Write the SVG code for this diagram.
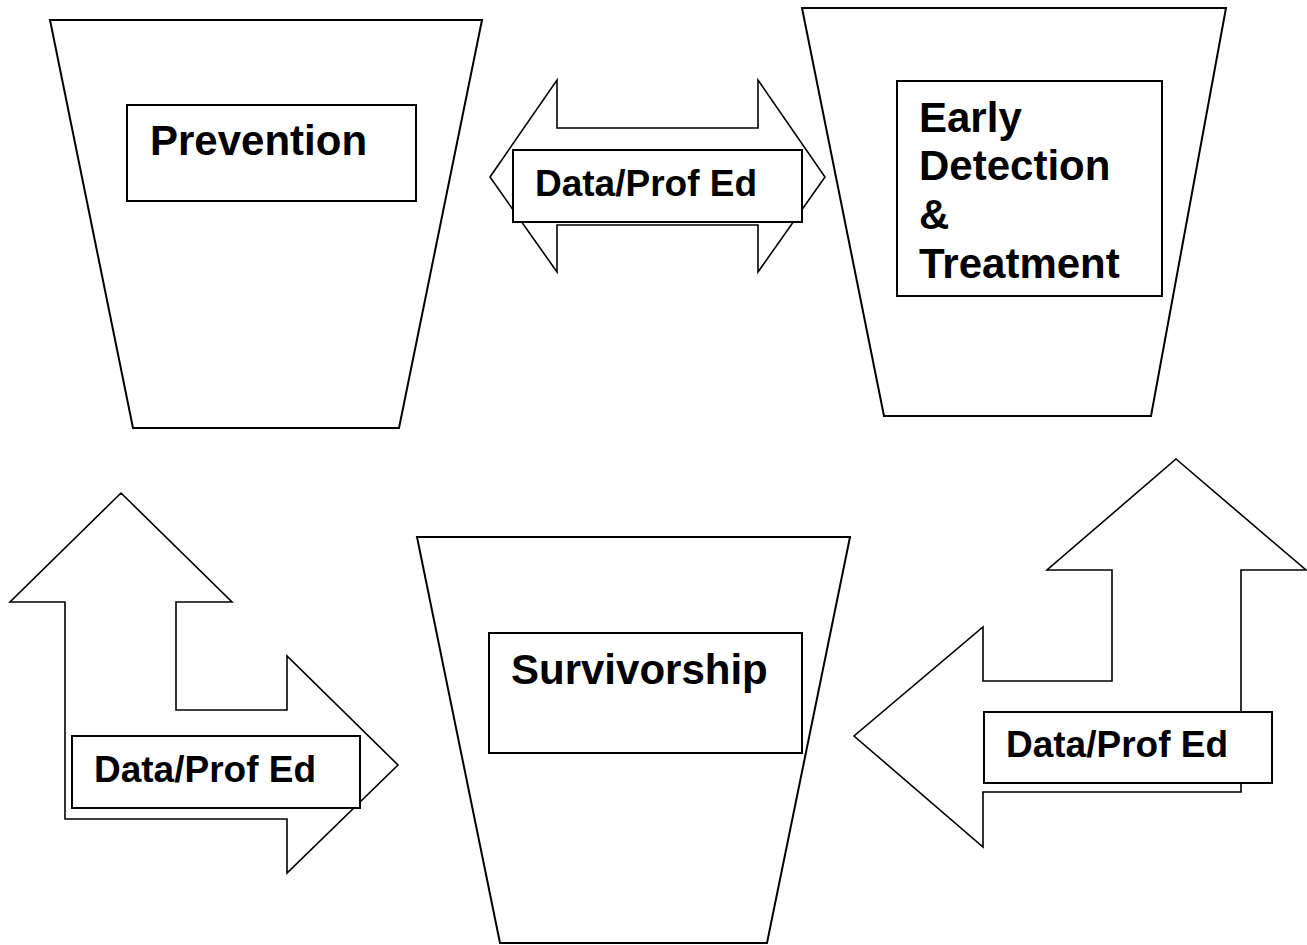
<svg xmlns="http://www.w3.org/2000/svg" width="1307" height="945" viewBox="0 0 1307 945">
<style>
.shape{fill:#fff;stroke:#000;stroke-width:2;stroke-linejoin:miter}
.arrow{fill:#fff;stroke:#000;stroke-width:1.6;stroke-linejoin:miter}
.lbl{fill:#fff;stroke:#000;stroke-width:2}
.big{font-family:"Liberation Sans",Arial,sans-serif;font-weight:bold;font-size:42px;fill:#000}
.small{font-family:"Liberation Sans",Arial,sans-serif;font-weight:bold;font-size:37px;fill:#000}
</style>
<rect width="1307" height="945" fill="#fff"/>
<g id="prevention">
<polygon class="shape" points="50,20 482,20 399,428 133,428"/>
<rect class="lbl" x="127" y="105" width="289" height="96"/>
<text class="big" x="150" y="155">Prevention</text>
</g>
<g id="early-detection">
<polygon class="shape" points="802,8 1226,8 1151,416 884,416"/>
<rect class="lbl" x="897" y="81" width="265" height="215"/>
<text class="big" x="919" y="132">Early</text>
<text class="big" x="919" y="180">Detection</text>
<text class="big" x="919" y="229">&amp;</text>
<text class="big" x="919" y="278">Treatment</text>
</g>
<g id="survivorship">
<polygon class="shape" points="417,537 850,537 767,943 500,943"/>
<rect class="lbl" x="489" y="633" width="313" height="120"/>
<text class="big" x="511" y="684">Survivorship</text>
</g>
<g id="connectors">
<g id="arrow-top">
<polygon class="arrow" points="490,177 557,80 557,128 758,128 758,80 825,177 758,272 758,225 557,225 557,272"/>
<rect class="lbl" x="513" y="150" width="289" height="72"/>
<text class="small" x="535" y="196">Data/Prof Ed</text>
</g>
<g id="arrow-left">
<polygon class="arrow" points="121,493 232,602 176,602 176,710 287,710 287,656 398,765 287,873 287,819 65,819 65,602 10,602"/>
<rect class="lbl" x="72" y="736" width="288" height="72"/>
<text class="small" x="94" y="782">Data/Prof Ed</text>
</g>
<g id="arrow-right">
<polygon class="arrow" points="1176,459 1306,570 1241,570 1241,792 983,792 983,847 854,736 983,627 983,681 1112,681 1112,570 1047,570"/>
<rect class="lbl" x="984" y="712" width="288" height="71"/>
<text class="small" x="1006" y="757">Data/Prof Ed</text>
</g>
</g>
</svg>
